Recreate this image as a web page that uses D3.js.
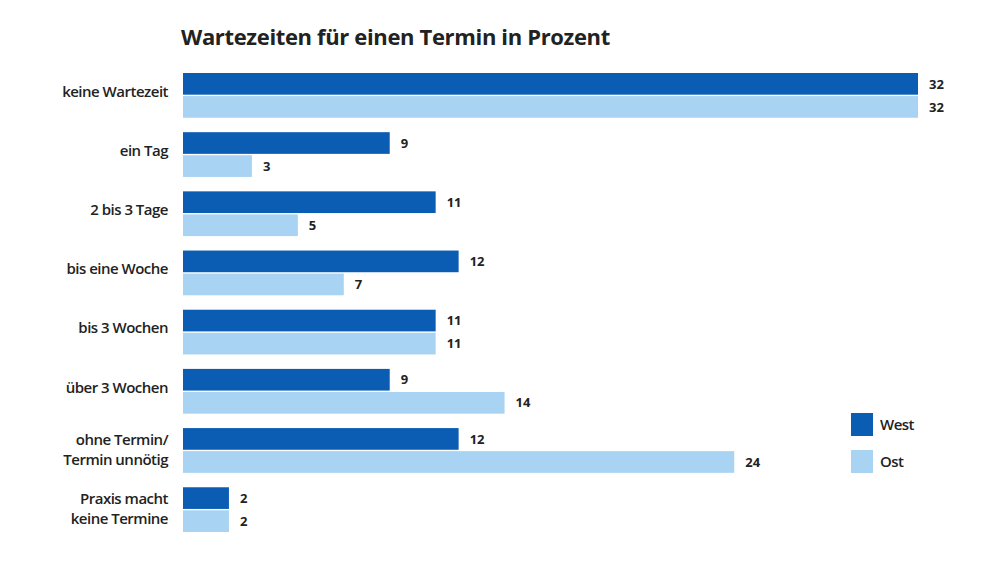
<!DOCTYPE html>
<html><head><meta charset="utf-8">
<script src="https://cdn.jsdelivr.net/npm/d3@7"></script>
<style>body{margin:0;background:#fff;} text{font-family:"Open Sans",sans-serif;}</style>
</head><body>
<svg id="c" width="1000" height="563"></svg>
<script>
const categories = [["keine Wartezeit"],["ein Tag"],["2 bis 3 Tage"],["bis eine Woche"],["bis 3 Wochen"],["über 3 Wochen"],["ohne Termin/","Termin unnötig"],["Praxis macht","keine Termine"]];
const west = [32,9,11,12,11,9,12,2];
const ost = [32,3,5,7,11,14,24,2];
const seriesNames = ["West","Ost"];
const colors = ["#0b5db4","#a8d3f2"];

const svg = d3.select("#c");
const x = d3.scaleLinear().domain([0,32]).range([183,918]);
const y = d3.scaleBand().domain(d3.range(categories.length)).range([73,532]).paddingInner(0.244).paddingOuter(0);
const sub = d3.scaleBand().domain([0,1]).range([0,y.bandwidth()]).paddingInner(0.06);

svg.append("text").attr("x",181).attr("y",45).attr("font-size",22).attr("font-weight","bold")
  .attr("fill","#222").style("letter-spacing","-0.35px")
  .text("Wartezeiten für einen Termin in Prozent");

const data = [west, ost];
categories.forEach((cat,i)=>{
  const g = svg.append("g").attr("transform",`translate(0,${y(i)})`);
  data.forEach((arr,s)=>{
    g.append("rect").attr("x",x(0)).attr("y",sub(s)).attr("width",x(arr[i])-x(0)).attr("height",sub.bandwidth()).attr("fill",colors[s]);
    g.append("text").attr("x",x(arr[i])+11).attr("y",sub(s)+sub.bandwidth()/2).attr("dy","0.36em")
      .attr("font-size",13).attr("font-weight","bold").attr("fill","#222").text(arr[i]);
  });
  const cy = y.bandwidth()/2;
  const lh = 20;
  cat.forEach((line,k)=>{
    const off = cat.length===1 ? -4 : (k - (cat.length-1)/2)*lh - 1;
    g.append("text").attr("x",168).attr("y",cy+off).attr("dy","0.36em").attr("text-anchor","end")
      .attr("font-size",15).attr("font-weight",600).style("letter-spacing","-0.5px").attr("fill","#222").text(line);
  });
});

seriesNames.forEach((n,s)=>{
  const ly = 413 + s*37;
  svg.append("rect").attr("x",851).attr("y",ly).attr("width",22).attr("height",23).attr("fill",colors[s]);
  svg.append("text").attr("x",880).attr("y",ly+12).attr("dy","0.36em").attr("font-size",15).attr("font-weight",600)
    .style("letter-spacing","-0.5px").attr("fill","#222").text(n);
});
</script>
</body></html>
